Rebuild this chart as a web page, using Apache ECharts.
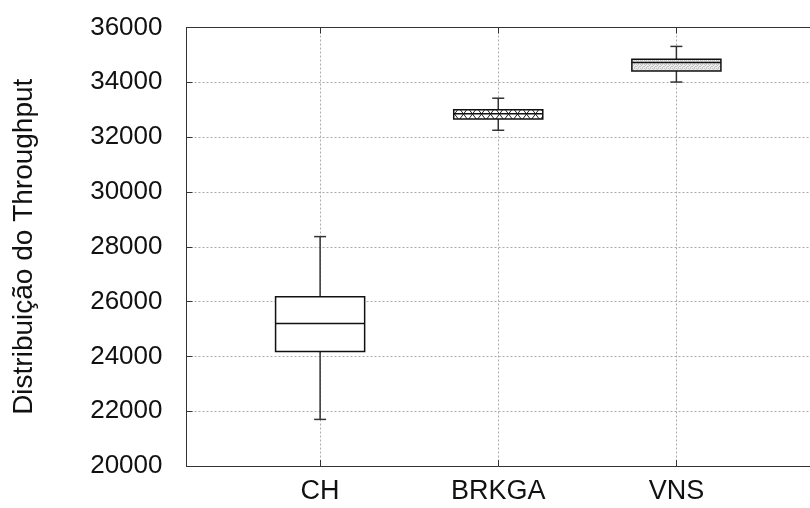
<!DOCTYPE html>
<html>
<head>
<meta charset="utf-8">
<script src="https://cdn.jsdelivr.net/npm/echarts@6/dist/echarts.min.js"></script>
<style>
  html, body { margin: 0; padding: 0; background: #fff; }
  #chart { width: 810px; height: 508px; }
</style>
</head>
<body>
<div id="chart"></div>
<script>
// Throughput distribution per method (box-and-whisker summary)
const categories   = ['CH', 'BRKGA', 'VNS'];
const xPositions   = [1, 2, 3];
const lowerWhisker = [21700, 32250, 34010];
const q1           = [24180, 32660, 34410];
const median       = [25200, 32850, 34720];
const q3           = [26180, 33000, 34840];
const upperWhisker = [28370, 33420, 35310];

const yMin = 20000, yMax = 36000, yStep = 2000;
const xMin = 0.25, xMax = 3.75;
const boxWidth = 0.5;

// Fill patterns for the boxes
function makePattern(kind) {
  const c = document.createElement('canvas');
  const ctx = c.getContext('2d');
  if (kind === 'zigzag') {
    c.width = 9; c.height = 12;
    ctx.fillStyle = '#fff';
    ctx.fillRect(0, 0, 9, 12);
    ctx.strokeStyle = '#222';
    ctx.lineWidth = 1;
    ctx.beginPath();
    ctx.moveTo(0, 0); ctx.lineTo(9, 12);
    ctx.moveTo(9, 0); ctx.lineTo(0, 12);
    ctx.moveTo(-4.5, 6); ctx.lineTo(4.5, 18);
    ctx.moveTo(4.5, -6); ctx.lineTo(13.5, 6);
    ctx.moveTo(13.5, 6); ctx.lineTo(4.5, 18);
    ctx.moveTo(4.5, -6); ctx.lineTo(-4.5, 6);
    ctx.stroke();
  } else if (kind === 'fine') {
    c.width = 4; c.height = 4;
    ctx.fillStyle = '#ebebeb';
    ctx.fillRect(0, 0, 4, 4);
    ctx.fillStyle = '#c4c4c4';
    ctx.fillRect(0, 0, 1, 1);
    ctx.fillRect(2, 0, 1, 1);
    ctx.fillRect(1, 1, 1, 1);
    ctx.fillRect(3, 2, 1, 1);
    ctx.fillRect(0, 2, 1, 1);
    ctx.fillRect(2, 3, 1, 1);
  } else {
    c.width = 1; c.height = 1;
    ctx.fillStyle = '#fff';
    ctx.fillRect(0, 0, 1, 1);
  }
  return { image: c, repeat: 'repeat' };
}
const fills = [makePattern('none'), makePattern('zigzag'), makePattern('fine')];

const boxData = categories.map((name, i) => [
  xPositions[i], lowerWhisker[i], q1[i], median[i], q3[i], upperWhisker[i]
]);

const font = '"Liberation Sans", Arial, Helvetica, sans-serif';
const gridLine = { show: true, lineStyle: { color: '#ababab', type: [2, 2], width: 1 } };

const chart = echarts.init(document.getElementById('chart'), null, { renderer: 'canvas' });
chart.setOption({
  animation: false,
  backgroundColor: '#fff',
  grid: { left: 186.5, right: -8.5, top: 27.5, bottom: 42 },
  xAxis: [{
    type: 'value', min: xMin, max: xMax, position: 'bottom',
    axisLine: { show: true, onZero: false, lineStyle: { color: '#333', width: 1 } },
    axisTick: { show: true, inside: true, length: 6, customValues: xPositions, lineStyle: { color: '#333' } },
    axisLabel: {
      show: true, customValues: xPositions, margin: 12,
      fontSize: 27, fontFamily: font, color: '#111',
      formatter: v => categories[xPositions.indexOf(v)] || ''
    },
    splitLine: gridLine
  }, {
    type: 'value', min: xMin, max: xMax, position: 'top',
    axisLine: { show: true, onZero: false, lineStyle: { color: '#333', width: 1 } },
    axisTick: { show: true, inside: true, length: 6, customValues: xPositions, lineStyle: { color: '#333' } },
    axisLabel: { show: false },
    splitLine: { show: false }
  }],
  yAxis: {
    type: 'value', min: yMin, max: yMax, interval: yStep,
    name: 'Distribuição do Throughput', nameLocation: 'middle', nameRotate: 90, nameGap: 148,
    nameTextStyle: { fontSize: 28, fontFamily: font, color: '#111' },
    axisLine: { show: true, onZero: false, lineStyle: { color: '#333', width: 1 } },
    axisTick: { show: true, inside: true, length: 6, lineStyle: { color: '#333' } },
    axisLabel: { fontSize: 26, fontFamily: font, color: '#111', margin: 24, formatter: v => String(v) },
    splitLine: gridLine
  },
  series: [{
    type: 'custom',
    xAxisIndex: 0,
    encode: { x: 0, y: [1, 2, 3, 4, 5] },
    data: boxData,
    renderItem: function (params, api) {
      const i = params.dataIndex;
      const x = api.value(0);
      const half = api.size([boxWidth, 0])[0] / 2;
      const pLow = api.coord([x, api.value(1)]);
      const pQ1 = api.coord([x, api.value(2)]);
      const pMed = api.coord([x, api.value(3)]);
      const pQ3 = api.coord([x, api.value(4)]);
      const pHigh = api.coord([x, api.value(5)]);
      const cap = 6;
      const whisker = { stroke: '#333', lineWidth: 1.5 };
      return {
        type: 'group',
        children: [
          { type: 'line', shape: { x1: pHigh[0], y1: pHigh[1], x2: pQ3[0], y2: pQ3[1] }, style: whisker },
          { type: 'line', shape: { x1: pQ1[0], y1: pQ1[1], x2: pLow[0], y2: pLow[1] }, style: whisker },
          { type: 'line', shape: { x1: pHigh[0] - cap, y1: pHigh[1], x2: pHigh[0] + cap, y2: pHigh[1] }, style: whisker },
          { type: 'line', shape: { x1: pLow[0] - cap, y1: pLow[1], x2: pLow[0] + cap, y2: pLow[1] }, style: whisker },
          {
            type: 'rect',
            shape: { x: pQ3[0] - half, y: pQ3[1], width: half * 2, height: pQ1[1] - pQ3[1] },
            style: { fill: fills[i], stroke: '#111', lineWidth: 1.5 }
          },
          { type: 'line', shape: { x1: pMed[0] - half, y1: pMed[1], x2: pMed[0] + half, y2: pMed[1] }, style: { stroke: '#111', lineWidth: 1.5 } }
        ]
      };
    }
  }]
});
</script>
</body>
</html>
